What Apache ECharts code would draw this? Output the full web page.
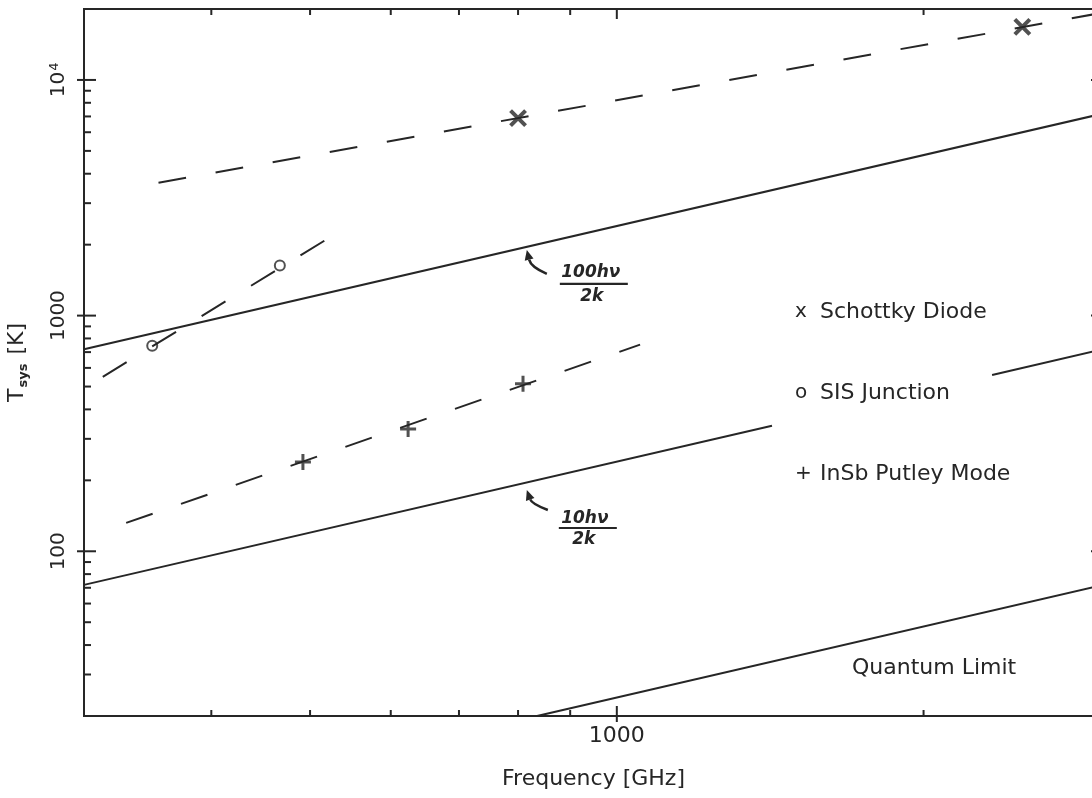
<!DOCTYPE html>
<html>
<head>
<meta charset="utf-8">
<script src="https://cdn.jsdelivr.net/npm/echarts@6/dist/echarts.min.js"></script>
<style>
html,body{margin:0;padding:0;background:#fff;}
#chart{width:1092px;height:798px;}
</style>
</head>
<body>
<div id="chart"></div>
<script>
// ---------- data ----------
const xRange = [300, 3000];          // GHz
const yRange = [20, 20000];          // K
const xTickLabels = {1000: '1000'};
const yTickLabels = {100: '100', 1000: '1000', 10000: '{b|10}{sup|4}'};
const tickMantissas = [1, 2, 3, 4, 5, 6, 7, 8, 9];
const tickDecades = [10, 100, 1000, 10000];

const schottkyPoints = [[800, 6890], [2500, 16800]];
const schottkyTrend  = [[355, 3660], [3000, 19300]];
const sisPoints      = [[350, 745], [467, 1633]];
const sisTrend       = [[313, 550], [523, 2150]];
const insbPoints     = [[492, 239], [624, 330], [809, 514]];
const insbTrend      = [[330, 132], [1054, 753]];

const line100hv  = [[300, 720], [3000, 7200]];
const line10hvA  = [[300, 72], [1420, 341]];
const line10hvB  = [[2335, 560], [3000, 720]];
const lineQuantum = [[835, 20], [3000, 72]];

const legendNames   = ['Schottky Diode', 'SIS Junction', 'InSb Putley Mode'];
const legendSymbols = ['x', 'o', '+'];

const annoNumerators   = ['100h\u03bd', '10h\u03bd'];
const annoDenominators = ['2k', '2k'];
const annoFreq = [816, 816];
const annoTemp = [1900, 182];

const noteText = ['Quantum Limit'];
const noteFreq = [2048];
const noteTemp = [32];

// ---------- styles ----------
const INK = '#262626';
const FONT = 'DejaVu Sans';
const annoLayout = [
  {tail: [20, 24], ctrl: [4, 17], num: [64, 23], bar: [33, 101, 34], den: [65, 47]},
  {tail: [21, 20], ctrl: [5, 14], num: [58, 29], bar: [32, 90, 38], den: [57, 50]}
];

function roundVal(v) { return Math.round(v); }

function renderFrameTicks(params, api) {
  const cs = params.coordSys;
  const left = cs.x, right = cs.x + cs.width, top = cs.y, bottom = cs.y + cs.height;
  const children = [];
  const st = {stroke: INK, lineWidth: 2};
  const seg = (x1, y1, x2, y2) => children.push({type: 'line', shape: {x1, y1, x2, y2}, style: st});
  tickDecades.forEach(d => tickMantissas.forEach(m => {
    const v = m * d;
    const major = m === 1;
    if (v > xRange[0] && v < xRange[1]) {
      const x = api.coord([v, 100])[0];
      seg(x, bottom + (major ? 6 : 0), x, bottom - (major ? 10 : 6));
      seg(x, top, x, top + (major ? 10 : 6));
    }
    if (v > yRange[0] && v < yRange[1]) {
      const y = api.coord([1000, v])[1];
      seg(left - (major ? 7 : 0), y, left + (major ? 12 : 7), y);
      seg(right, y, right - (major ? 12 : 7), y);
    }
  }));
  return {type: 'group', children};
}

function renderAnnotation(params, api) {
  const i = params.dataIndex;
  const L = annoLayout[i];
  const tip = api.coord([api.value(0), api.value(1)]);
  const tx = tip[0], ty = tip[1];
  let dx = -L.ctrl[0], dy = -L.ctrl[1];
  const n = Math.sqrt(dx * dx + dy * dy); dx /= n; dy /= n;
  const hl = 10, hw = 4.5;
  const bx = tx - dx * hl, by = ty - dy * hl;
  const px = -dy, py = dx;
  return {
    type: 'group',
    children: [
      {type: 'bezierCurve', shape: {x1: tx + L.tail[0], y1: ty + L.tail[1], x2: bx, y2: by,
        cpx1: tx + L.ctrl[0], cpy1: ty + L.ctrl[1]}, style: {stroke: INK, lineWidth: 2.5, fill: null}},
      {type: 'polygon', shape: {points: [[tx, ty], [bx + px * hw, by + py * hw], [bx - px * hw, by - py * hw]]},
        style: {fill: INK}},
      {type: 'text', style: {text: annoNumerators[i], x: tx + L.num[0], y: ty + L.num[1],
        align: 'center', verticalAlign: 'middle', fill: INK,
        font: 'italic bold 17px "' + FONT + '"'}},
      {type: 'line', shape: {x1: tx + L.bar[0], y1: ty + L.bar[2], x2: tx + L.bar[1], y2: ty + L.bar[2]},
        style: {stroke: INK, lineWidth: 2.2}},
      {type: 'text', style: {text: annoDenominators[i], x: tx + L.den[0], y: ty + L.den[1],
        align: 'center', verticalAlign: 'middle', fill: INK,
        font: 'italic bold 17px "' + FONT + '"'}}
    ]
  };
}

function renderNote(params, api) {
  const p = api.coord([api.value(0), api.value(1)]);
  return {type: 'text', style: {text: noteText[params.dataIndex], x: p[0], y: p[1],
    align: 'center', verticalAlign: 'middle', fill: INK, font: '22px "' + FONT + '"'}};
}

const lineBase = (data, dashed) => ({
  type: 'line', data, showSymbol: false, symbol: 'none', silent: true, animation: false,
  lineStyle: {color: INK, width: 2, type: dashed ? [28, 30] : 'solid'},
  z: 3
});

const X_PATH = 'path://M0,0L16,16M16,0L0,16';
const PLUS_PATH = 'path://M8,0L8,16M0,8L16,8';

const chart = echarts.init(document.getElementById('chart'), null, {renderer: 'canvas'});
chart.setOption({
  backgroundColor: '#ffffff',
  animation: false,
  textStyle: {fontFamily: FONT},
  grid: {left: 84, top: 9, width: 1019, height: 707, show: true, borderColor: INK, borderWidth: 2,
    backgroundColor: 'transparent', containLabel: false, outerBoundsMode: 'none'},
  legend: {
    orient: 'vertical', left: 785, top: 294, itemGap: 55, itemWidth: 0, itemHeight: 10,
    icon: 'none', selectedMode: false,
    data: legendNames,
    formatter: name => '{sym|' + legendSymbols[legendNames.indexOf(name)] + '}' + name,
    textStyle: {fontSize: 22, color: INK, fontFamily: FONT, lineHeight: 26,
      rich: {sym: {fontSize: 20, color: INK, fontFamily: FONT, width: 25, lineHeight: 26}}}
  },
  xAxis: {
    type: 'log', logBase: 10, min: xRange[0], max: xRange[1],
    name: 'Frequency [GHz]', nameLocation: 'middle', nameGap: 52,
    nameTextStyle: {fontSize: 22, color: INK, fontFamily: FONT},
    axisLine: {show: true, lineStyle: {color: INK, width: 2}},
    axisTick: {show: false}, splitLine: {show: false},
    axisLabel: {fontSize: 22, color: INK, margin: 9, fontFamily: FONT,
      formatter: v => xTickLabels[roundVal(v)] || ''}
  },
  yAxis: {
    type: 'log', logBase: 10, min: yRange[0], max: yRange[1],
    name: '{t|T}{s|sys}{t| [K]}', nameLocation: 'middle', nameGap: 54, nameRotate: 90,
    nameTextStyle: {color: INK, fontFamily: FONT,
      rich: {t: {fontSize: 22, color: INK, fontFamily: FONT, lineHeight: 26},
             s: {fontSize: 13, color: INK, fontFamily: FONT, verticalAlign: 'bottom', lineHeight: 12,
                 fontWeight: 'bold', padding: [0, 2, 0, 1]}}},
    axisLine: {show: true, lineStyle: {color: INK, width: 2}},
    axisTick: {show: false}, splitLine: {show: false},
    axisLabel: {fontSize: 20, color: INK, margin: 15, rotate: 90, fontFamily: FONT,
      formatter: v => yTickLabels[roundVal(v)] || '',
      rich: {b: {fontSize: 20, color: INK, fontFamily: FONT},
             sup: {fontSize: 13, color: INK, fontFamily: FONT, verticalAlign: 'top', padding: [0, 0, 8, 1]}}}
  },
  series: [
    Object.assign(lineBase(line100hv, false), {name: '100hv'}),
    Object.assign(lineBase(line10hvA, false), {name: '10hvA'}),
    Object.assign(lineBase(line10hvB, false), {name: '10hvB'}),
    Object.assign(lineBase(lineQuantum, false), {name: 'quantum'}),
    Object.assign(lineBase(schottkyTrend, true), {name: 'schottkyTrend'}),
    Object.assign(lineBase(sisTrend, true), {name: 'sisTrend'}),
    Object.assign(lineBase(insbTrend, true), {name: 'insbTrend'}),
    {name: legendNames[0], type: 'scatter', data: schottkyPoints, symbol: X_PATH, symbolSize: 15,
      itemStyle: {color: 'rgba(0,0,0,0)', borderColor: INK, borderWidth: 4}, z: 5, silent: true},
    {name: legendNames[1], type: 'scatter', data: sisPoints, symbol: 'circle', symbolSize: 10,
      itemStyle: {color: 'rgba(0,0,0,0)', borderColor: INK, borderWidth: 2}, z: 5, silent: true},
    {name: legendNames[2], type: 'scatter', data: insbPoints, symbol: PLUS_PATH, symbolSize: 16,
      itemStyle: {color: 'rgba(0,0,0,0)', borderColor: INK, borderWidth: 3}, z: 5, silent: true},
    {type: 'custom', name: 'ticks', data: [[1000, 100]], renderItem: renderFrameTicks, silent: true,
      clip: false, z: 6},
    {type: 'custom', name: 'annotations', data: annoFreq.map((f, i) => [f, annoTemp[i]]),
      renderItem: renderAnnotation, silent: true, clip: false, z: 6},
    {type: 'custom', name: 'notes', data: noteFreq.map((f, i) => [f, noteTemp[i]]),
      renderItem: renderNote, silent: true, clip: false, z: 6}
  ]
});
</script>
</body>
</html>
